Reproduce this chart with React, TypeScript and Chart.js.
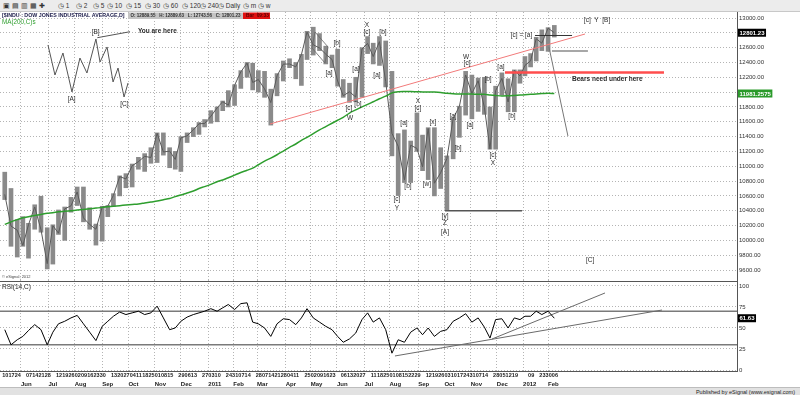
import React, { useEffect, useRef } from "react";
import { Chart, registerables } from "chart.js";

Chart.register(...registerables);

// ---------- calendar ----------
const FIRST_DAY = "2010-05-10";
const LAST_DAY = "2012-02-10";
const HOLIDAYS = [
  "2010-05-31", "2010-07-05", "2010-09-06", "2010-11-25", "2010-12-24",
  "2011-01-17", "2011-02-21", "2011-04-22", "2011-05-30", "2011-07-04",
  "2011-09-05", "2011-11-24", "2011-12-26", "2012-01-02", "2012-01-16",
];
const MONTH_NAMES = ["Jan", "Feb", "Mar", "Apr", "May", "Jun", "Jul", "Aug", "Sep", "Oct", "Nov", "Dec"];

// ---------- weekly price data ($INDU), week of 2010-05-10 .. week of 2012-02-06 ----------
const weekHigh = [
  10920, 10700, 10280, 10320, 10230, 10480, 10595, 10170, 10210, 10410, 10450, 10580, 10720, 10720, 10440, 10220, 10460,
  10470, 10630, 10870, 10900, 11030, 11120, 11170, 11250, 11450, 11450, 11250, 11200, 11400, 11450, 11520, 11590, 11630,
  11750, 11800, 11880, 12020, 12100, 12290, 12400, 12390, 12290, 12280, 12040, 12250, 12420, 12450, 12400, 12510, 12820,
  12876, 12790, 12620, 12500, 12580, 12170, 12120, 12200, 12600, 12750, 12660, 12750, 12690, 12280, 11440, 11490, 11340,
  11720, 11420, 11520, 11520, 11250, 11140, 11650, 11810, 12280, 12230, 12190, 12200, 11800, 12080, 12260, 12180, 12300,
  12300, 12480, 12520, 12740, 12840, 12870, 12900,
];
const weekLow = [
  10550, 9920, 9775, 9920, 9760, 10150, 10110, 9614, 9680, 10080, 10000, 10380, 10470, 10250, 10150, 9936, 9990,
  10320, 10460, 10600, 10710, 10720, 10960, 10930, 11040, 11050, 11150, 10980, 10960, 10930, 11320, 11400, 11430, 11530,
  11580, 11600, 11750, 11800, 11820, 12050, 12200, 12030, 12000, 11930, 11555, 11950, 12150, 12330, 12180, 12090, 12440,
  12500, 12560, 12380, 12330, 12080, 11930, 11862, 11870, 11930, 12520, 12380, 12360, 12070, 11140, 10604, 10780, 10780,
  11200, 10940, 10820, 10600, 10700, 10404, 11100, 11390, 11690, 11640, 11740, 11700, 11230, 11230, 11960, 11735, 11735,
  12120, 12220, 12340, 12420, 12560, 12550, 12743,
];
const weekClose = [
  10620, 10193, 10137, 9931, 10211, 10450, 10143, 9686, 10198, 10097, 10424, 10466, 10653, 10303, 10214, 10150, 10447,
  10462, 10607, 10860, 10829, 11006, 11062, 11133, 11118, 11444, 11192, 11204, 11092, 11382, 11410, 11491, 11573, 11577,
  11674, 11787, 11871, 11824, 12092, 12273, 12391, 12130, 12170, 12044, 11859, 12220, 12377, 12380, 12341, 12506, 12810,
  12638, 12596, 12512, 12441, 12151, 11952, 12004, 11934, 12582, 12657, 12480, 12681, 12143, 11444, 11269, 10817, 11284,
  11240, 10992, 11509, 10771, 10913, 11103, 11644, 11809, 12231, 11983, 12153, 11796, 11231, 12019, 12184, 11867, 12294,
  12218, 12360, 12422, 12720, 12660, 12862, 12801.23,
];
const ma200 = [
  10215, 10250, 10280, 10305, 10320, 10335, 10350, 10365, 10372, 10385, 10392, 10400, 10410, 10415, 10425, 10435, 10445,
  10452, 10460, 10468, 10477, 10485, 10492, 10505, 10518, 10530, 10548, 10565, 10590, 10612, 10640, 10665, 10700, 10725,
  10755, 10790, 10815, 10845, 10880, 10915, 10945, 10975, 11020, 11070, 11110, 11155, 11205, 11255, 11300, 11350, 11390,
  11440, 11490, 11535, 11580, 11620, 11660, 11718, 11760, 11800, 11835, 11870, 11910, 11945, 11990, 12005, 12008, 12008,
  12005, 12003, 12002, 12000, 11995, 11985, 11978, 11975, 11975, 11973, 11972, 11970, 11962, 11955, 11948, 11950, 11955,
  11960, 11965, 11970, 11975, 11980, 11985, 11981.26,
];
const rsi14 = [
  48, 30, 36, 40, 47, 54, 48, 30, 45, 55, 58, 62, 65, 55, 45, 35, 52,
  58, 64, 69, 66, 68, 70, 66, 68, 76, 62, 48, 50, 58, 63, 66, 68, 70,
  73, 70, 74, 78, 72, 79, 80, 57, 55, 50, 40, 55, 61, 60, 54, 62, 73,
  62, 57, 52, 48, 40, 33, 37, 44, 60, 68, 57, 62, 48, 20, 36, 33, 45,
  50, 42, 50, 40, 46, 48, 58, 62, 67, 57, 62, 51, 38, 60, 61, 50, 62,
  60, 64, 64, 70, 66, 70, 61.63,
];

const priceTicks = [9600, 9800, 10000, 10200, 10400, 10600, 10800, 11000, 11200, 11400, 11600, 11800, 12000, 12200, 12400, 12600, 12800, 13000];
const coveredPriceTicks = [12000, 12800];
const rsiTicks = [0, 25, 50, 75, 100];
const rsiLevels = [30, 70];
const lastMAText = "11981.2575";

// ---------- annotations (trading-day index from 2010-05-10, price) ----------
const schematicDay = [36.6, 42.2, 48.6, 55.8, 62.2, 67.8, 75.0, 78.3, 83.9, 88.7, 92.7, 97.5, 100.7];
const schematicPrice = [12636, 12231, 12528, 12002, 12460, 12258, 12717, 12406, 12609, 12137, 12325, 11934, 12123];
const pointerDay = [76.1, 102.3];
const pointerPrice = [12734, 12815];
const trendDay = [214.4, 466.6];
const trendPrice = [11570, 12784];
const lowLineDay = [354.5, 416.1];
const lowLinePrice = [10400, 10400];
const bearsDay = [402.5, 529.8];
const bearsPrice = [12265, 12265];
const midLineDay = [440.1, 468.9];
const midLinePrice = [12555, 12555];
const topLineDay = [426.5, 456.2];
const topLinePrice = [12764, 12764];
const projDay = [437.7, 452.9];
const projPrice = [12609, 11408];
const wedgeDay = [250.4, 260.8, 258.4, 248.0, 250.4];
const wedgePrice = [12811, 12609, 12393, 12595, 12811];

const waveText = ["[b]", "[a]", "X", "[c]", "[b]", "[a]", "[a]", "[c]", "[b]", "W", "X", "[c]", "[a]", "[x]", "[b]", "[w]", "[c]", "Y",
  "W", "[c]", "[b]", "[a]", "[a]", "[b]", "[c]", "X", "[a]", "[b]", "[y]", "Z", "[A]",
  "[B]", "[A]", "[C]", "[c] = [a]", "[c]  Y  [B]", "[C]"];
const waveDay = [268.0, 261.6, 292.0, 292.0, 304.8, 283.2, 300.0, 277.6, 284.8, 278.4, 332.8, 332.8, 321.6, 344.8, 324.8, 340.0, 316.0, 316.0,
  371.3, 372.1, 388.9, 360.9, 374.5, 364.9, 392.9, 392.9, 399.3, 408.1, 354.5, 354.5, 354.5,
  74.8, 55.6, 97.7, 415.7, 476.2, 470.6];
const wavePrice = [12663, 12258, 12906, 12811, 12811, 12312, 12231, 11786, 11840, 11651, 11880, 11786, 11583, 11597, 10733, 10760, 10558, 10437,
  12474, 12393, 12177, 11678, 11556, 11246, 11152, 11044, 12339, 11678, 10329, 10234, 10113,
  12807, 11903, 11840, 12771, 12973, 9735];

const noteText = ["You are here", "Bears need under here"];
const noteDay = [108.6, 456.2];
const notePrice = [12825, 12177];

const rsiTrend1Day = [392.1, 482.6];
const rsiTrend1Val = [36.9, 91.7];
const rsiTrend2Day = [314.4, 528.2];
const rsiTrend2Val = [16.7, 71.4];

// ---------- helpers ----------
type Week = { first: number; last: number; mid: number; count: number; dom: number };

function buildCalendar() {
  const hol = new Set(HOLIDAYS);
  const days: { iso: string; m: number; y: number; dom: number; wk: string }[] = [];
  const d = new Date(FIRST_DAY + "T00:00:00Z");
  const end = new Date(LAST_DAY + "T00:00:00Z");
  while (d.getTime() <= end.getTime()) {
    const wd = d.getUTCDay();
    const iso = d.toISOString().slice(0, 10);
    if (wd !== 0 && wd !== 6 && !hol.has(iso)) {
      const mon = new Date(d.getTime() - (wd - 1) * 86400000).toISOString().slice(0, 10);
      days.push({ iso, m: d.getUTCMonth(), y: d.getUTCFullYear(), dom: d.getUTCDate(), wk: mon });
    }
    d.setUTCDate(d.getUTCDate() + 1);
  }
  const weeks: Week[] = [];
  days.forEach((day, i) => {
    const w = weeks[weeks.length - 1];
    if (w && days[w.first].wk === day.wk) {
      w.last = i;
      w.count++;
      w.mid = (w.first + w.last) / 2;
    } else {
      weeks.push({ first: i, last: i, mid: i, count: 1, dom: day.dom });
    }
  });
  const months: { idx: number; label: string }[] = [];
  days.forEach((day, i) => {
    if (i > 0 && days[i - 1].m !== day.m) {
      months.push({ idx: i, label: day.m === 0 ? String(day.y) : MONTH_NAMES[day.m] });
    }
  });
  return { days, weeks, months };
}

const CAL = buildCalendar();
const DATE_WEEKS = CAL.weeks.filter((w) => w.count === 5);

const X_MIN = -1.81;
const X_MAX = 588.26;
const FONT = "'Liberation Sans', Arial, sans-serif";

function zeroPad(s: any) {
  s.paddingLeft = 0;
  s.paddingRight = 0;
  s.paddingTop = 0;
  s.paddingBottom = 0;
}

function seg(days: number[], vals: number[], color: string, width: number, extra: any = {}) {
  return {
    type: "line",
    data: days.map((d, i) => ({ x: d, y: vals[i] })),
    borderColor: color,
    borderWidth: width,
    pointRadius: 0,
    fill: false,
    tension: 0,
    order: 0,
    ...extra,
  };
}

function drawBox(ctx: CanvasRenderingContext2D, text: string, x: number, y: number, bg: string, fg: string) {
  ctx.font = `bold 6px ${FONT}`;
  const w = ctx.measureText(text).width + 3;
  ctx.fillStyle = bg;
  ctx.fillRect(x, y - 4, w, 8);
  ctx.fillStyle = fg;
  ctx.textAlign = "left";
  ctx.textBaseline = "middle";
  ctx.fillText(text, x + 1.5, y + 0.5);
}

function fitText(ctx: CanvasRenderingContext2D, text: string, weight: string, maxW: number) {
  ctx.font = `${weight} 10px ${FONT}`;
  const w = ctx.measureText(text).width;
  const size = Math.min(6.5, (10 * maxW) / w);
  ctx.font = `${weight} ${size.toFixed(2)}px ${FONT}`;
}

const priceOverlay = {
  id: "priceOverlay",
  afterDraw(chart: any) {
    const { ctx, chartArea } = chart;
    const xs = chart.scales.x;
    const ys = chart.scales.y;
    ctx.save();
    // wave labels
    ctx.font = `6.5px ${FONT}`;
    ctx.fillStyle = "#2b2b2b";
    ctx.textAlign = "center";
    ctx.textBaseline = "middle";
    waveText.forEach((t, i) => {
      ctx.fillText(t, xs.getPixelForValue(waveDay[i]), ys.getPixelForValue(wavePrice[i]));
    });
    // notes
    ctx.font = `bold 6.5px ${FONT}`;
    ctx.textAlign = "left";
    noteText.forEach((t, i) => {
      ctx.fillText(t, xs.getPixelForValue(noteDay[i]), ys.getPixelForValue(notePrice[i]));
    });
    // header
    const L = chartArea.left;
    const T = chartArea.top;
    ctx.fillStyle = "#c4c4c4";
    ctx.fillRect(L + 128, T + 0.5, 115, 6.5);
    ctx.fillStyle = "#e01010";
    ctx.fillRect(L + 243, T + 0.5, 27, 6.5);
    const title = "[$INDU : DOW JONES INDUSTRIAL AVERAGE,D]";
    fitText(ctx, title, "bold", 123);
    ctx.fillStyle = "#1c1c4a";
    ctx.fillText(title, L + 2, T + 3.8);
    ctx.fillStyle = "#2e9e2e";
    ctx.font = `6.3px ${FONT}`;
    ctx.fillText("MA(200,C)s", L + 2, T + 10.5);
    const ohlc = "O: 12889.55   H: 12889.63   L: 12743.56   C: 12801.23";
    fitText(ctx, ohlc, "bold", 110);
    ctx.fillStyle = "#333";
    ctx.fillText(ohlc, L + 130.5, T + 4);
    ctx.font = `bold 4.8px ${FONT}`;
    ctx.fillStyle = "#5a0000";
    ctx.fillText("Bar  09:33", L + 246, T + 4);
    ctx.font = `4px ${FONT}`;
    ctx.fillStyle = "#444";
    ctx.fillText("© eSignal, 2012", L + 2, chartArea.bottom - 3);
    // right axis value boxes
    const last = weekClose[weekClose.length - 1];
    drawBox(ctx, last.toFixed(2), chartArea.right + 1, ys.getPixelForValue(last), "#000", "#fff");
    drawBox(ctx, lastMAText, chartArea.right + 1, ys.getPixelForValue(ma200[ma200.length - 1]), "#2a9a2a", "#fff");
    ctx.restore();
  },
};

const rsiOverlay = {
  id: "rsiOverlay",
  beforeDatasetsDraw(chart: any) {
    const { ctx, chartArea } = chart;
    const ys = chart.scales.y;
    ctx.save();
    ctx.strokeStyle = "#7a7a7a";
    ctx.lineWidth = 1.6;
    rsiLevels.forEach((lv) => {
      const y = ys.getPixelForValue(lv);
      ctx.beginPath();
      ctx.moveTo(chartArea.left, y);
      ctx.lineTo(chartArea.right, y);
      ctx.stroke();
    });
    ctx.strokeStyle = "#555";
    ctx.lineWidth = 1;
    ctx.beginPath();
    ctx.moveTo(chartArea.left, chartArea.top + 1.5);
    ctx.lineTo(chartArea.right, chartArea.top + 1.5);
    ctx.stroke();
    ctx.restore();
  },
  afterDraw(chart: any) {
    const { ctx, chartArea } = chart;
    const xs = chart.scales.x;
    const ys = chart.scales.y;
    ctx.save();
    ctx.font = `6.5px ${FONT}`;
    ctx.fillStyle = "#222";
    ctx.textAlign = "left";
    ctx.textBaseline = "middle";
    ctx.fillText("RSI(14,C)", chartArea.left + 2, chartArea.top + 7);
    // weekly date labels on the date axis row
    ctx.font = `bold 5.5px ${FONT}`;
    ctx.fillStyle = "#222";
    ctx.textBaseline = "top";
    DATE_WEEKS.forEach((w) => {
      ctx.fillText(String(w.dom).padStart(2, "0"), xs.getPixelForValue(w.first), xs.top + 2);
    });
    const last = rsi14[rsi14.length - 1];
    drawBox(ctx, last.toFixed(2), chartArea.right + 1, ys.getPixelForValue(last), "#000", "#fff");
    ctx.restore();
  },
};

export default function App() {
  const priceRef = useRef<HTMLCanvasElement>(null);
  const rsiRef = useRef<HTMLCanvasElement>(null);

  useEffect(() => {
    const { weeks, months } = CAL;
    const mids = weeks.map((w) => w.mid);
    const monthTicks = months.map((m) => m.idx);
    const monthLabel = new Map(months.map((m) => [m.idx, m.label]));

    const gridCommon = { color: "#b4b4b4", lineWidth: 1, drawTicks: false, offset: false };

    const c1 = new Chart(priceRef.current as HTMLCanvasElement, {
      type: "bar",
      data: {
        datasets: [
          seg(schematicDay, schematicPrice, "#555", 1),
          seg(pointerDay, pointerPrice, "#555", 1),
          seg(trendDay, trendPrice, "#f27a7a", 1),
          seg(lowLineDay, lowLinePrice, "#555", 1.5),
          seg(bearsDay, bearsPrice, "#ff4d4d", 2.5),
          seg(midLineDay, midLinePrice, "#8a8a8a", 1.5),
          seg(topLineDay, topLinePrice, "#333", 1),
          seg(projDay, projPrice, "#777", 1),
          seg(wedgeDay, wedgePrice, "#666", 0.8),
          {
            type: "line",
            data: mids.map((x, i) => ({ x, y: ma200[i] })),
            borderColor: "#2e9e2e",
            borderWidth: 1.5,
            pointRadius: 0,
            tension: 0.3,
            order: 1,
          },
          {
            type: "line",
            data: mids.map((x, i) => ({ x, y: weekClose[i] })),
            borderColor: "#5a5a5a",
            borderWidth: 1,
            pointRadius: 0,
            order: 2,
          },
          {
            type: "bar",
            data: mids.map((x, i) => ({ x, y: [weekLow[i], weekHigh[i]] })),
            backgroundColor: "#8a8a8a",
            borderWidth: 0,
            barThickness: 4,
            order: 5,
          },
        ] as any,
      },
      options: {
        animation: false,
        responsive: false,
        maintainAspectRatio: false,
        layout: { padding: 0 },
        plugins: { legend: { display: false }, tooltip: { enabled: false } },
        scales: {
          x: {
            type: "linear",
            min: X_MIN,
            max: X_MAX,
            offset: false,
            afterBuildTicks: (s: any) => {
              s.ticks = monthTicks.map((v) => ({ value: v }));
            },
            afterFit: (s: any) => {
              s.height = 0;
              zeroPad(s);
            },
            ticks: { display: false },
            grid: gridCommon,
            border: { display: true, color: "#555", width: 1, dash: [1, 2] },
          },
          y: {
            type: "linear",
            position: "right",
            min: 9465.2,
            max: 13080.95,
            afterBuildTicks: (s: any) => {
              s.ticks = priceTicks.map((v) => ({ value: v }));
            },
            afterFit: (s: any) => {
              s.width = 63;
              zeroPad(s);
            },
            ticks: {
              padding: 2,
              color: "#333",
              font: { size: 6, family: FONT },
              callback: (v: any) => (coveredPriceTicks.includes(v) ? "" : Number(v).toFixed(2)),
            },
            grid: gridCommon,
            border: { display: true, color: "#555", width: 1, dash: [1, 2] },
          },
        },
      } as any,
      plugins: [priceOverlay],
    });

    const c2 = new Chart(rsiRef.current as HTMLCanvasElement, {
      type: "line",
      data: {
        datasets: [
          {
            data: mids.map((x, i) => ({ x, y: rsi14[i] })),
            borderColor: "#000",
            borderWidth: 1,
            pointRadius: 0,
            tension: 0,
          },
          seg(rsiTrend1Day, rsiTrend1Val, "#6a6a6a", 1),
          seg(rsiTrend2Day, rsiTrend2Val, "#6a6a6a", 1),
        ] as any,
      },
      options: {
        animation: false,
        responsive: false,
        maintainAspectRatio: false,
        layout: { padding: 0 },
        plugins: { legend: { display: false }, tooltip: { enabled: false } },
        scales: {
          x: {
            type: "linear",
            position: "bottom",
            weight: 0,
            min: X_MIN,
            max: X_MAX,
            afterBuildTicks: (s: any) => {
              s.ticks = DATE_WEEKS.map((w) => ({ value: w.first }));
            },
            afterFit: (s: any) => {
              s.height = 8;
              zeroPad(s);
            },
            ticks: { display: false },
            grid: { display: false },
            border: { display: true, color: "#555", width: 1 },
          },
          xm: {
            type: "linear",
            position: "bottom",
            weight: 1,
            min: X_MIN,
            max: X_MAX,
            afterBuildTicks: (s: any) => {
              s.ticks = monthTicks.map((v) => ({ value: v }));
            },
            afterFit: (s: any) => {
              s.height = 8;
              zeroPad(s);
            },
            ticks: {
              autoSkip: false,
              maxRotation: 0,
              minRotation: 0,
              align: "start",
              padding: 2,
              color: "#222",
              font: { size: 6, weight: "bold", family: FONT },
              callback: (v: any) => monthLabel.get(v) ?? "",
            },
            grid: gridCommon,
            border: { display: false, dash: [1, 2] },
          },
          y: {
            type: "linear",
            position: "right",
            min: -1.19,
            max: 107.14,
            afterBuildTicks: (s: any) => {
              s.ticks = rsiTicks.map((v) => ({ value: v }));
            },
            afterFit: (s: any) => {
              s.width = 63;
              zeroPad(s);
            },
            ticks: {
              padding: 2,
              color: "#333",
              font: { size: 6, family: FONT },
              callback: (v: any) => String(v),
            },
            grid: gridCommon,
            border: { display: true, color: "#555", width: 1, dash: [1, 2] },
          },
        },
      } as any,
      plugins: [rsiOverlay],
    });

    return () => {
      c1.destroy();
      c2.destroy();
    };
  }, []);

  const tools = [
    { t: "1", x: 58 }, { t: "2", x: 76 }, { t: "5", x: 93 }, { t: "10", x: 107 }, { t: "15", x: 126 },
    { t: "30", x: 145 }, { t: "60", x: 163 }, { t: "120", x: 182 }, { t: "240", x: 200 }, { t: "Daily", x: 218 },
    { t: "m", x: 243 }, { t: "w", x: 258 },
  ];

  return (
    <div
      style={{
        position: "fixed",
        left: 0,
        top: 0,
        width: 800,
        height: 395,
        background: "#fff",
        overflow: "hidden",
        fontFamily: FONT,
      }}
    >
      <div
        style={{
          position: "absolute",
          left: 0,
          top: 0,
          width: 800,
          height: 11,
          background: "#ececec",
          borderBottom: "1px solid #c8c8c8",
          fontSize: 6.5,
          color: "#333",
          lineHeight: "11px",
        }}
      >
        <span style={{ position: "absolute", left: 3, top: 0, letterSpacing: 2 }}>▣▤▥▦✚</span>
        {tools.map((it) => (
          <span key={it.t} style={{ position: "absolute", left: it.x, top: 0, whiteSpace: "nowrap" }}>
            ◷ {it.t}
          </span>
        ))}
      </div>
      <canvas
        ref={priceRef}
        width={800}
        height={268}
        style={{ position: "absolute", left: 0, top: 12, width: 800, height: 268 }}
      />
      <canvas
        ref={rsiRef}
        width={800}
        height={107}
        style={{ position: "absolute", left: 0, top: 280, width: 800, height: 107 }}
      />
      <div
        style={{
          position: "absolute",
          left: 0,
          top: 387,
          width: 800,
          height: 8,
          background: "#e2e2e2",
          borderTop: "1px solid #bdbdbd",
          fontSize: 5.5,
          color: "#222",
          lineHeight: "8px",
          textAlign: "right",
        }}
      >
        <span style={{ marginRight: 5 }}>Published by eSignal (www.esignal.com)</span>
      </div>
    </div>
  );
}
